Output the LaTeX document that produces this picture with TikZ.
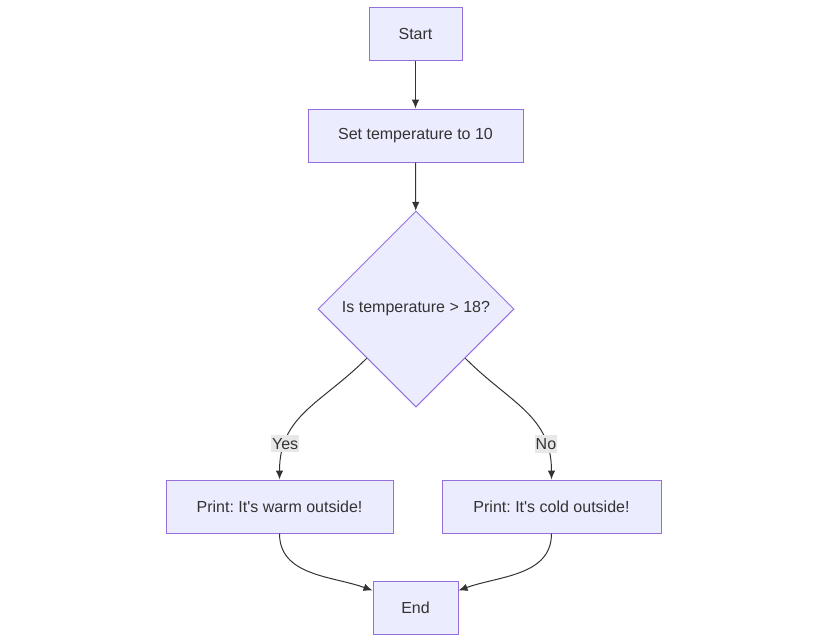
\documentclass[tikz,border=0pt]{standalone}
\usepackage{fontspec}
\setmainfont{Liberation Sans}[Ligatures=TeXOff]
\usepackage{tikz}
\usetikzlibrary{shapes.geometric,arrows.meta}
\definecolor{boxfill}{HTML}{ECECFF}
\definecolor{boxline}{HTML}{9370DB}
\definecolor{edgecol}{HTML}{333333}
\definecolor{lblfill}{HTML}{E8E8E8}
\frenchspacing
\tikzset{
  font={\fontsize{16pt}{18pt}\selectfont}}

\begin{document}
\begin{tikzpicture}[x=1pt, y=1pt, main/.style = {draw=boxline, fill=boxfill, text=edgecol, line width=1pt, minimum height=53pt, inner sep=0pt}, cond/.style = {main, diamond, minimum width=196pt, minimum height=196pt}, yesno/.style = {fill=lblfill, inner xsep=1pt, inner ysep=3pt, text=edgecol}, edge/.style = {draw=edgecol, line width=1pt, -{Latex[length=9pt,width=7.5pt]}}]
\useasboundingbox (0,0) rectangle (828,-643);
\node[main, minimum width=93pt] (start) at (415.5,-34) {Start};
\node[main, minimum width=215pt] (set) at (415.5,-135.5) {Set temperature to 10};
\node[cond] (check) at (416,-309) {Is temperature > 18?};
\node[main, minimum width=227pt] (warm) at (279.5,-506.5) {Print: It's warm outside!};
\node[main, minimum width=219pt] (cold) at (551.5,-506.5) {Print: It's cold outside!};
\node[main, minimum width=85pt] (stop) at (415.5,-607.5) {End};

\draw[edge] (start) -- (set);
\draw[edge] (set) -- (check);
\draw[edge] (check.south west) to [out=-135, in=90, looseness=1.1] node[yesno, pos=0.78] {Yes} (warm.north);
\draw[edge] (check.south east) to [out=-45, in=90, looseness=1.1] node[yesno, pos=0.78] {No} (cold.north);
\draw[edge] (warm.south) to [out=-90, in=160] ([yshift=-10pt]stop.north west);
\draw[edge] (cold.south) to [out=-90, in=20] ([yshift=-10pt]stop.north east);
\end{tikzpicture}
\end{document}
